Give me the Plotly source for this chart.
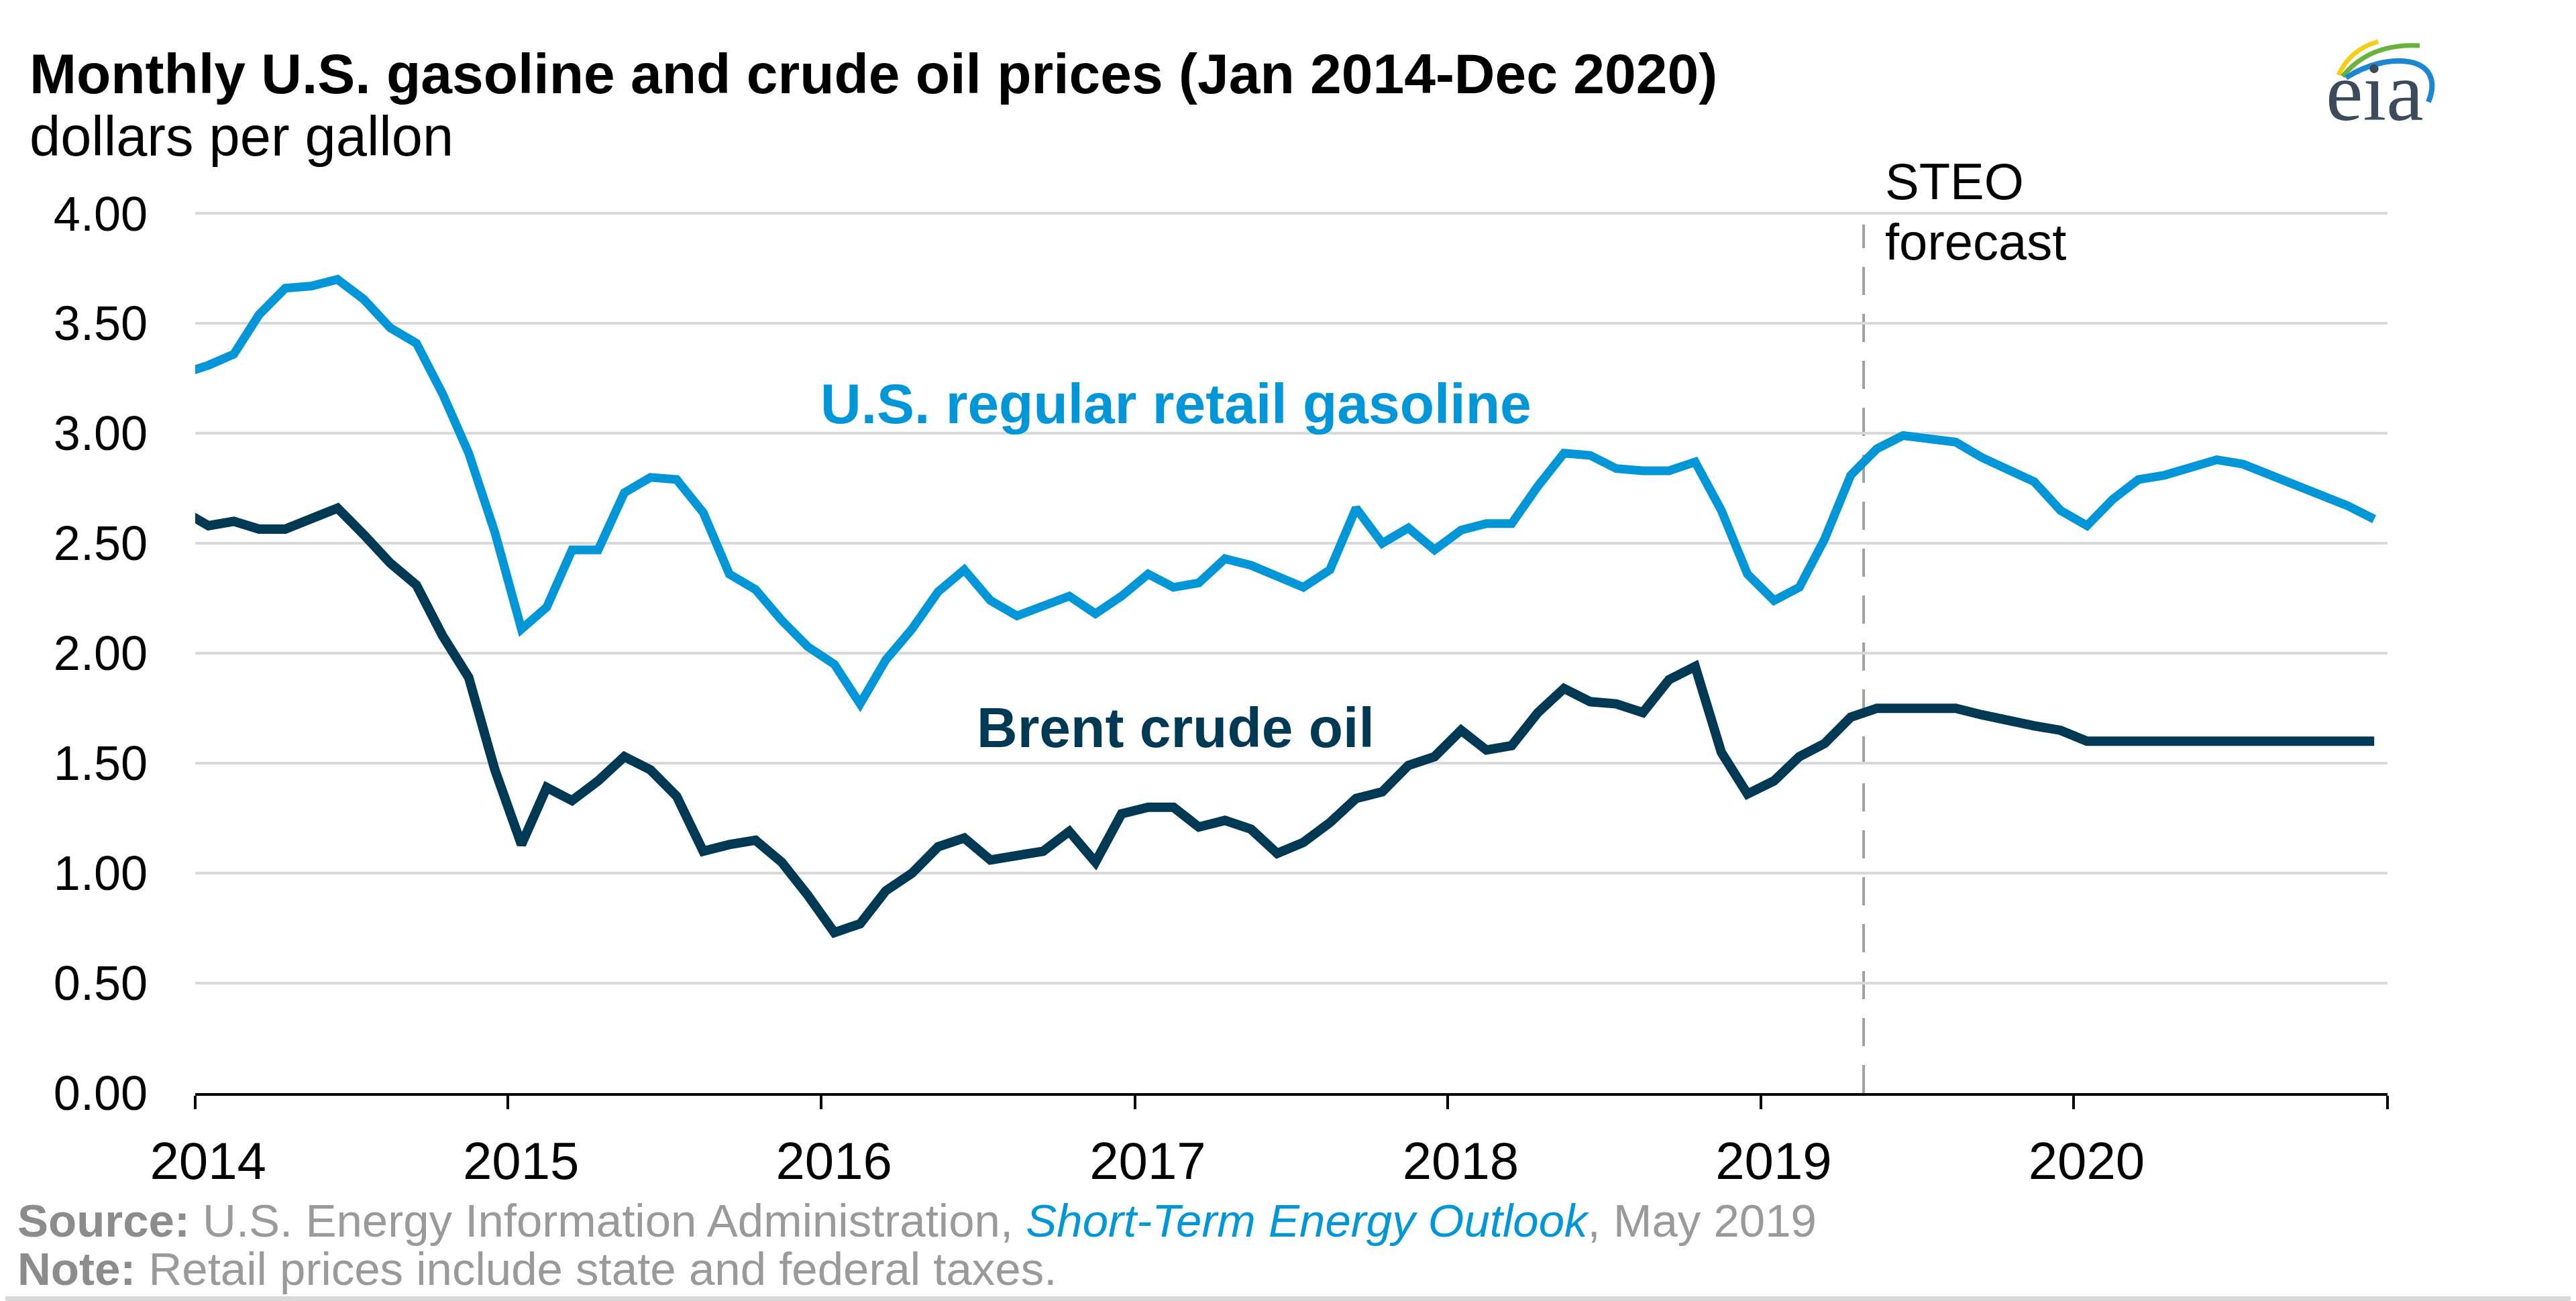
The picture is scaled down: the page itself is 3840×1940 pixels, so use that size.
import pandas as pd
import plotly.graph_objects as go

# ---------------- data ----------------
months = pd.date_range("2013-12-01", "2020-12-01", freq="MS")

gasoline = [
    3.27,
    3.31, 3.36, 3.54, 3.66, 3.67, 3.70, 3.61, 3.48, 3.41, 3.18, 2.91, 2.55,
    2.11, 2.21, 2.47, 2.47, 2.73, 2.80, 2.79, 2.64, 2.36, 2.29, 2.15, 2.03,
    1.95, 1.77, 1.97, 2.11, 2.28, 2.38, 2.24, 2.17, 2.22, 2.26, 2.18, 2.26,
    2.36, 2.30, 2.32, 2.43, 2.40, 2.35, 2.30, 2.38, 2.66, 2.50, 2.57, 2.47,
    2.56, 2.59, 2.59, 2.76, 2.91, 2.90, 2.84, 2.83, 2.83, 2.87, 2.65, 2.36,
    2.24, 2.30, 2.52, 2.81, 2.93, 2.99, 2.98, 2.96, 2.89, 2.83, 2.78, 2.65,
    2.58, 2.70, 2.79, 2.81, 2.85, 2.88, 2.86, 2.81, 2.76, 2.71, 2.67, 2.61,
]
brent = [
    2.65,
    2.58, 2.60, 2.565, 2.565, 2.61, 2.66, 2.54, 2.41, 2.31, 2.08, 1.89, 1.47,
    1.13, 1.39, 1.33, 1.42, 1.53, 1.47, 1.35, 1.10, 1.13, 1.15, 1.05, 0.90,
    0.73, 0.77, 0.92, 1.00, 1.12, 1.16, 1.06, 1.08, 1.10, 1.19, 1.05, 1.27,
    1.30, 1.30, 1.21, 1.24, 1.20, 1.09, 1.14, 1.23, 1.34, 1.37, 1.49, 1.53,
    1.65, 1.56, 1.58, 1.73, 1.84, 1.78, 1.77, 1.73, 1.88, 1.94, 1.55, 1.36,
    1.42, 1.53, 1.59, 1.71, 1.75, 1.75, 1.75, 1.75, 1.72, 1.69, 1.67, 1.65,
    1.60, 1.60, 1.60, 1.60, 1.60, 1.60, 1.60, 1.60, 1.60, 1.60, 1.60, 1.60,
]
years = [2014, 2015, 2016, 2017, 2018, 2019, 2020]
year_labels = [str(y) for y in years]
y_ticks = [0, 0.5, 1.0, 1.5, 2.0, 2.5, 3.0, 3.5, 4.0]
forecast_start = "2019-05-01"

# points sit in the middle of each month slot
centers = months + (months + pd.offsets.MonthBegin(1) - months) / 2

# ---------------- layout geometry ----------------
W, H = 3840, 1940
OFF = 8  # page body margin of the written html
ML, MT = 283, 309
MR, MB = W - 3551, H - 1622
PW, PH = W - ML - MR, H - MT - MB


def xp(sx):
    return (sx - OFF - ML) / PW


def yp(sy):
    return (H - MB - (sy - OFF)) / PH


BLUE = "#0096d7"
NAVY = "#003953"
FONT = "Liberation Sans, Arial, sans-serif"

fig = go.Figure()
fig.add_trace(go.Scatter(x=centers, y=gasoline, mode="lines",
                         line=dict(color=BLUE, width=13),
                         name="U.S. regular retail gasoline", hoverinfo="x+y"))
fig.add_trace(go.Scatter(x=centers, y=brent, mode="lines",
                         line=dict(color=NAVY, width=14),
                         name="Brent crude oil", hoverinfo="x+y"))

label_vals = [pd.Timestamp(f"{y}-01-16") for y in years]
boundary_vals = [pd.Timestamp(f"{y}-01-01") for y in years + [2021]]

fig.update_layout(
    template="none",
    width=W, height=H,
    margin=dict(l=ML, r=MR, t=MT, b=MB, pad=0),
    paper_bgcolor="white", plot_bgcolor="white",
    showlegend=False,
    font=dict(family=FONT, color="#000000"),
    xaxis=dict(
        type="date",
        range=["2014-01-01", "2021-01-01"],
        tickmode="array", tickvals=label_vals, ticktext=year_labels,
        ticks="", showgrid=False, zeroline=False,
        showline=True, linecolor="#000000", linewidth=4,
        tickfont=dict(size=78, family=FONT, color="#000000"),
        ticklabelstandoff=30,
        minor=dict(tickmode="array", tickvals=boundary_vals, ticks="outside",
                   ticklen=20, tickwidth=4, tickcolor="#000000", showgrid=False),
        automargin=False, fixedrange=True,
    ),
    yaxis=dict(
        range=[0, 4.004],
        tickmode="array", tickvals=y_ticks, tickformat=".2f",
        showgrid=True, gridcolor="#d9d9d9", gridwidth=4,
        zeroline=False, showline=False, ticks="",
        tickfont=dict(size=72, family=FONT, color="#000000"),
        ticklabelstandoff=70,
        automargin=False, fixedrange=True,
    ),
)

# forecast divider
fig.add_shape(type="line", xref="x", yref="y",
              x0=forecast_start, x1=forecast_start, y0=0, y1=3.95,
              line=dict(color="#a0a0a0", width=4, dash="42px,28px"), layer="below")

annotations = [
    dict(text="<b>Monthly U.S. gasoline and crude oil prices (Jan 2014-Dec 2020)</b>",
         x=xp(42), y=yp(110), xanchor="left", yanchor="middle",
         font=dict(size=84, color="#000000")),
    dict(text="dollars per gallon", x=xp(42), y=yp(203), xanchor="left", yanchor="middle",
         font=dict(size=83, color="#000000")),
    dict(text="<b>U.S. regular retail gasoline</b>", x=xp(1753), y=yp(602),
         xanchor="center", yanchor="middle", font=dict(size=84, color=BLUE)),
    dict(text="<b>Brent crude oil</b>", x=xp(1752), y=yp(1085),
         xanchor="center", yanchor="middle", font=dict(size=84, color=NAVY)),
    dict(text="STEO", x=xp(2808), y=yp(270), xanchor="left", yanchor="middle",
         font=dict(size=76, color="#000000")),
    dict(text="forecast", x=xp(2808), y=yp(360), xanchor="left", yanchor="middle",
         font=dict(size=76, color="#000000")),
    dict(text="<span style='color:#8c8c8c'><b>Source:</b></span> U.S. Energy Information Administration, "
              "<i><span style='color:#0096d7'>Short-Term Energy Outlook</span></i>, May 2019",
         x=xp(24), y=yp(1820), xanchor="left", yanchor="middle",
         font=dict(size=69, color="#9a9a9a")),
    dict(text="<span style='color:#8c8c8c'><b>Note:</b></span> Retail prices include state and federal taxes.",
         x=xp(24), y=yp(1892), xanchor="left", yanchor="middle",
         font=dict(size=69, color="#9a9a9a")),
    dict(text="eia", x=xp(3540), y=yp(137), xanchor="center", yanchor="middle",
         font=dict(size=125, color="#3b4b5b", family="Liberation Serif, DejaVu Serif, serif")),
]
for a in annotations:
    a.update(xref="paper", yref="paper", showarrow=False)
    fig.add_annotation(**a)


def P(sx, sy):
    return f"{xp(sx):.5f},{yp(sy):.5f}"


# logo arcs
fig.add_shape(type="path", xref="paper", yref="paper",
              path=f"M {P(3486,112)} Q {P(3503,74)} {P(3545,62)}",
              line=dict(color="#f5cf14", width=7))
fig.add_shape(type="path", xref="paper", yref="paper",
              path=f"M {P(3492,114)} Q {P(3532,64)} {P(3607,68)}",
              line=dict(color="#6ab23e", width=7))
fig.add_shape(type="path", xref="paper", yref="paper",
              path=f"M {P(3497,116)} C {P(3560,75)} {P(3648,82)} {P(3620,152)}",
              line=dict(color="#1c86cf", width=8))

# bottom rule
fig.add_shape(type="rect", xref="paper", yref="paper",
              x0=xp(0), x1=xp(W), y0=yp(1940), y1=yp(1933),
              line=dict(width=0), fillcolor="#d9d9d9")

fig.write_html("out.html")
